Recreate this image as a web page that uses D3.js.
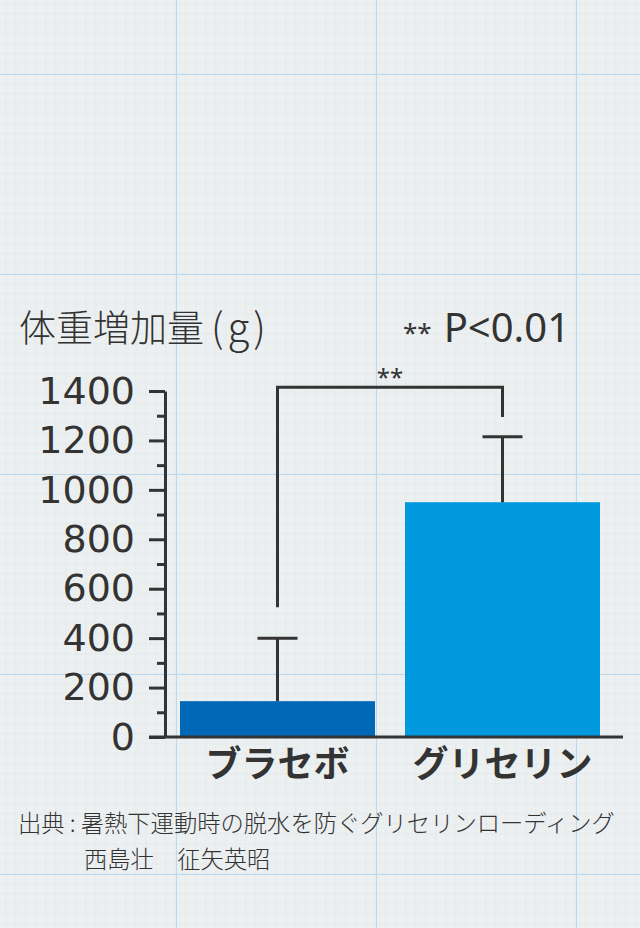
<!DOCTYPE html>
<html>
<head>
<meta charset="utf-8">
<script src="https://cdn.jsdelivr.net/npm/d3@7"></script>
<style>
  body { margin: 0; background: #edf0f1; }
  svg { display: block; }
</style>
</head>
<body>
<svg id="chart"></svg>
<script>
const CATEGORIES = ["ブラセボ", "グリセリン"];
const MEANS = [145, 950];
const ERROR_TOPS = [400, 1215];
const BAR_COLORS = ["#0068b7", "#0099dd"];
const Y_TICKS = [0, 200, 400, 600, 800, 1000, 1200, 1400];
const Y_MINOR = [100, 300, 500, 700, 900, 1100, 1300];
// significance bracket: left foot, top, right foot (in grams)
const BRACKET = [525, 1415, 1295];
const TITLE = "体重増加量";
const TITLE_UNIT = "(g)";
const SIG_MARK = "**";
const SIG_NOTE = "P<0.01";
const SOURCE_LINES = [
    "出典 : 暑熱下運動時の脱水を防ぐグリセリンローディング",
    "西島壮　征矢英昭"
];

const width = 640;
const height = 928;
const axisX = 165;
const font = "'Noto Sans CJK JP', 'Noto Sans', sans-serif";
const latinFont = "'Noto Sans', 'Noto Sans CJK JP', sans-serif";
const digitFont = "'DejaVu Sans', 'Noto Sans', sans-serif";
const ink = "#333333";

const svg = d3.select("#chart")
    .attr("width", width)
    .attr("height", height);

//Graph paper background
svg.append("rect")
    .attr("width", width)
    .attr("height", height)
    .attr("fill", "#edf0f1");

const grid = svg.append("g");
grid.selectAll(".minor-v")
    .data(d3.range(6, width, 10))
    .enter()
    .append("line")
    .attr("x1", d => d).attr("x2", d => d)
    .attr("y1", 0).attr("y2", height)
    .attr("stroke", "#e4e9eb")
    .attr("stroke-width", 1);
grid.selectAll(".minor-h")
    .data(d3.range(4, height, 10))
    .enter()
    .append("line")
    .attr("x1", 0).attr("x2", width)
    .attr("y1", d => d).attr("y2", d => d)
    .attr("stroke", "#e4e9eb")
    .attr("stroke-width", 1);
grid.selectAll(".major-v")
    .data(d3.range(176.5, width, 200))
    .enter()
    .append("line")
    .attr("x1", d => d).attr("x2", d => d)
    .attr("y1", 0).attr("y2", height)
    .attr("stroke", "#bcd9ee")
    .attr("stroke-width", 1);
grid.selectAll(".major-h")
    .data(d3.range(74.5, height, 200))
    .enter()
    .append("line")
    .attr("x1", 0).attr("x2", width)
    .attr("y1", d => d).attr("y2", d => d)
    .attr("stroke", "#bcd9ee")
    .attr("stroke-width", 1);

//Scales
const yScale = d3.scaleLinear()
    .domain([0, 1400])
    .range([737, 391]);
const xScale = d3.scaleBand()
    .domain(CATEGORIES)
    .range([axisX, 615])
    .paddingInner(30 / 225)
    .paddingOuter(15 / 225);

//Bars
svg.selectAll(".bar")
    .data(CATEGORIES)
    .enter()
    .append("rect")
    .attr("class", "bar")
    .attr("x", d => xScale(d))
    .attr("y", (d, i) => yScale(MEANS[i]))
    .attr("width", xScale.bandwidth())
    .attr("height", (d, i) => yScale(0) - yScale(MEANS[i]))
    .attr("fill", (d, i) => BAR_COLORS[i]);

//Error bars
const center = d => xScale(d) + xScale.bandwidth() / 2;
const errors = svg.append("g")
    .attr("stroke", ink)
    .attr("stroke-width", 3);
errors.selectAll(".err")
    .data(CATEGORIES)
    .enter()
    .append("line")
    .attr("x1", center).attr("x2", center)
    .attr("y1", (d, i) => yScale(MEANS[i]))
    .attr("y2", (d, i) => yScale(ERROR_TOPS[i]));
errors.selectAll(".cap")
    .data(CATEGORIES)
    .enter()
    .append("line")
    .attr("x1", d => center(d) - 20).attr("x2", d => center(d) + 20)
    .attr("y1", (d, i) => yScale(ERROR_TOPS[i]))
    .attr("y2", (d, i) => yScale(ERROR_TOPS[i]));

//Significance bracket
const bx0 = center(CATEGORIES[0]);
const bx1 = center(CATEGORIES[1]);
svg.append("path")
    .attr("d", `M${bx0},${yScale(BRACKET[0])}V${yScale(BRACKET[1])}H${bx1}V${yScale(BRACKET[2])}`)
    .attr("fill", "none")
    .attr("stroke", ink)
    .attr("stroke-width", 3);
svg.append("text")
    .attr("x", (bx0 + bx1) / 2)
    .attr("y", yScale(BRACKET[1]) - 1)
    .attr("text-anchor", "middle")
    .attr("font-family", latinFont)
    .attr("font-size", 24)
    .attr("fill", ink)
    .text(SIG_MARK);

//Axes
const yAxis = d3.axisLeft(yScale)
    .tickValues(Y_TICKS)
    .tickFormat(d3.format("d"))
    .tickSize(16)
    .tickSizeOuter(0)
    .tickPadding(14);
const yMinor = d3.axisLeft(yScale)
    .tickValues(Y_MINOR)
    .tickSize(8)
    .tickSizeOuter(0)
    .tickFormat("");

const gy = svg.append("g")
    .attr("transform", `translate(${axisX}, 0)`)
    .call(yAxis);
svg.append("g")
    .attr("transform", `translate(${axisX}, 0)`)
    .call(yMinor)
    .select(".domain").remove();

svg.selectAll(".tick line, .domain")
    .attr("stroke", ink)
    .attr("stroke-width", 3);
gy.selectAll(".tick text")
    .attr("font-family", digitFont)
    .attr("font-size", 38)
    .attr("fill", ink);

//Baseline
svg.append("line")
    .attr("x1", axisX - 16).attr("x2", 623)
    .attr("y1", yScale(0)).attr("y2", yScale(0))
    .attr("stroke", ink)
    .attr("stroke-width", 3);

//Category labels
svg.selectAll(".cat")
    .data(CATEGORIES)
    .enter()
    .append("text")
    .attr("x", center)
    .attr("y", 777)
    .attr("text-anchor", "middle")
    .attr("font-family", font)
    .attr("font-size", 36)
    .attr("font-weight", 700)
    .attr("fill", ink)
    .text(d => d);

//Title and note
const title = svg.append("text")
    .attr("x", 19)
    .attr("y", 342)
    .attr("font-family", font)
    .attr("font-size", 37)
    .attr("font-weight", 300)
    .attr("fill", ink);
title.append("tspan").text(TITLE);
title.append("tspan")
    .attr("dx", 7)
    .attr("font-size", 40)
    .attr("letter-spacing", 4)
    .text(TITLE_UNIT);

const note = svg.append("text")
    .attr("x", 403)
    .attr("y", 342)
    .attr("font-family", latinFont)
    .attr("fill", ink);
note.append("tspan")
    .attr("font-size", 26)
    .text(SIG_MARK);
note.append("tspan")
    .attr("font-size", 40)
    .attr("dx", 12)
    .text(SIG_NOTE);

//Source
svg.selectAll(".src")
    .data(SOURCE_LINES)
    .enter()
    .append("text")
    .attr("x", (d, i) => i === 0 ? 18 : 84)
    .attr("y", (d, i) => 832 + i * 36)
    .attr("font-family", font)
    .attr("font-size", 23.3)
    .attr("font-weight", 300)
    .attr("fill", ink)
    .text(d => d);
</script>
</body>
</html>
